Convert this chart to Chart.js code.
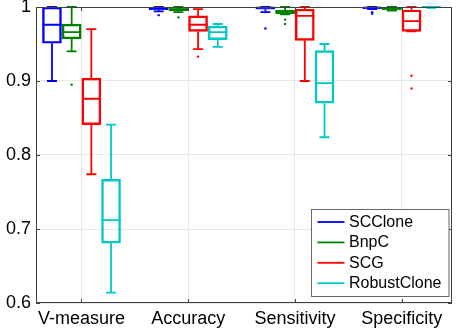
<!DOCTYPE html>
<html>
<head>
<meta charset="utf-8">
<script src="https://cdn.jsdelivr.net/npm/chart.js@4/dist/chart.umd.min.js"></script>
<style>
html,body{margin:0;padding:0;background:#fff;}
canvas{display:block;}
</style>
</head>
<body>
<canvas id="c" width="457" height="328"></canvas>
<script>
// ---- data ----
const categories = ['V-measure', 'Accuracy', 'Sensitivity', 'Specificity'];
const methods = ['SCClone', 'BnpC', 'SCG', 'RobustClone'];
const yTicks = [0.6, 0.7, 0.8, 0.9, 1];

// five-number summaries per category: [lower whisker, q1, median, q3, upper whisker]
const scclone = [
  [0.900, 0.951, 0.976, 1.000, 1.000],
  [0.994, 0.996, 0.998, 0.999, 1.000],
  [0.993, 0.997, 0.999, 1.000, 1.000],
  [0.997, 0.998, 0.999, 1.000, 1.000]
];
const bnpc = [
  [0.940, 0.957, 0.966, 0.977, 1.000],
  [0.993, 0.995, 0.997, 0.998, 1.000],
  [0.990, 0.991, 0.994, 0.996, 1.000],
  [0.995, 0.996, 0.998, 0.999, 1.000]
];
const scg = [
  [0.774, 0.841, 0.876, 0.904, 0.970],
  [0.943, 0.967, 0.976, 0.988, 0.997],
  [0.900, 0.955, 0.988, 0.997, 1.000],
  [0.967, 0.967, 0.981, 0.996, 1.000]
];
const robustclone = [
  [0.614, 0.681, 0.712, 0.767, 0.841],
  [0.946, 0.956, 0.966, 0.974, 0.977],
  [0.824, 0.870, 0.897, 0.941, 0.950],
  [0.999, 0.9995, 1.000, 1.000, 1.000]
];
// outliers per category
const sccloneOutliers = [[], [0.989], [0.971], [0.993, 0.991]];
const bnpcOutliers = [[0.895], [0.986], [0.983, 0.977], []];
const scgOutliers = [[], [0.933], [], [0.907, 0.890]];
const robustcloneOutliers = [[], [], [], []];

// ---- style ----
const stats = [scclone, bnpc, scg, robustclone];
const outliers = [sccloneOutliers, bnpcOutliers, scgOutliers, robustcloneOutliers];
const colors = ['#0000ff', '#008000', '#ff0000', '#00c8c8'];
const boxStep = 0.1845;
const offsetOf = k => (k - 1.5) * boxStep;
const LW = 1.8;
const FONT = '"Liberation Sans", Arial, Helvetica, sans-serif';

const datasets = [];
methods.forEach((m, k) => {
  datasets.push({
    type: 'bar',
    label: m,
    data: categories.map((c, i) => ({ x: i + 1 + offsetOf(k), y: [stats[k][i][1], stats[k][i][3]] })),
    backgroundColor: 'rgba(0,0,0,0)',
    borderColor: colors[k],
    borderWidth: LW,
    borderSkipped: false,
    barThickness: 19,
    grouped: false
  });
});
methods.forEach((m, k) => {
  const pts = [];
  categories.forEach((c, i) => {
    outliers[k][i].forEach(v => pts.push({ x: i + 1 + offsetOf(k), y: v }));
  });
  datasets.push({
    type: 'scatter',
    label: m + ' outliers',
    data: pts,
    pointRadius: 1.2,
    pointBackgroundColor: colors[k],
    pointBorderWidth: 0,
    pointHoverRadius: 1.2
  });
});

const noPad = s => { s.paddingTop = 0; s.paddingBottom = 0; s.paddingLeft = 0; s.paddingRight = 0; };

const boxPlugin = {
  id: 'boxParts',
  afterDatasetsDraw(chart) {
    const ctx = chart.ctx;
    const xs = chart.scales.x, ys = chart.scales.y;
    const ca = chart.chartArea;
    ctx.save();
    ctx.lineCap = 'butt';
    methods.forEach((m, k) => {
      ctx.strokeStyle = colors[k];
      ctx.lineWidth = LW;
      categories.forEach((c, i) => {
        const s = stats[k][i];
        const cx = xs.getPixelForValue(i + 1 + offsetOf(k));
        const yMin = ys.getPixelForValue(s[0]);
        const yQ1 = ys.getPixelForValue(s[1]);
        const yMed = ys.getPixelForValue(s[2]);
        const yQ3 = ys.getPixelForValue(s[3]);
        const yMax = ys.getPixelForValue(s[4]);
        ctx.beginPath();
        ctx.moveTo(cx, yQ3); ctx.lineTo(cx, yMax);
        ctx.moveTo(cx, yQ1); ctx.lineTo(cx, yMin);
        ctx.moveTo(cx - 5, yMax); ctx.lineTo(cx + 5, yMax);
        ctx.moveTo(cx - 5, yMin); ctx.lineTo(cx + 5, yMin);
        ctx.moveTo(cx - 9.5, yMed); ctx.lineTo(cx + 9.5, yMed);
        ctx.stroke();
      });
    });
    // frame and inward ticks
    ctx.strokeStyle = '#404040';
    ctx.lineWidth = 1;
    ctx.strokeRect(ca.left + 0.5, ca.top + 0.5, ca.right - ca.left - 1, ca.bottom - ca.top - 1);
    ctx.beginPath();
    ys.ticks.forEach(t => {
      const y = Math.round(ys.getPixelForValue(t.value)) + 0.5;
      ctx.moveTo(ca.left, y); ctx.lineTo(ca.left + 4, y);
      ctx.moveTo(ca.right, y); ctx.lineTo(ca.right - 4, y);
    });
    xs.ticks.forEach(t => {
      const x = Math.round(xs.getPixelForValue(t.value)) + 0.5;
      ctx.moveTo(x, ca.bottom); ctx.lineTo(x, ca.bottom - 4);
      ctx.moveTo(x, ca.top); ctx.lineTo(x, ca.top + 4);
    });
    ctx.stroke();
    ctx.restore();
  },
  afterDraw(chart) {
    const ctx = chart.ctx;
    const ca = chart.chartArea;
    const bx = ca.right - 140.5, by = ca.bottom - 93.5, bw = 137.5, bh = 87;
    ctx.save();
    ctx.fillStyle = '#ffffff';
    ctx.fillRect(bx, by, bw, bh);
    ctx.strokeStyle = '#666666';
    ctx.lineWidth = 1;
    ctx.strokeRect(bx, by, bw, bh);
    ctx.font = '16px ' + FONT;
    ctx.textBaseline = 'middle';
    ctx.textAlign = 'left';
    methods.forEach((m, k) => {
      const y = by + 12.5 + k * 20.4;
      ctx.strokeStyle = colors[k];
      ctx.lineWidth = 1.8;
      ctx.beginPath();
      ctx.moveTo(bx + 6, y); ctx.lineTo(bx + 33, y);
      ctx.stroke();
      ctx.fillStyle = '#000000';
      ctx.fillText(m, bx + 37.5, y + 0.5);
    });
    ctx.restore();
  }
};

new Chart(document.getElementById('c'), {
  data: { datasets },
  options: {
    responsive: false,
    devicePixelRatio: 1,
    animation: false,
    layout: { padding: { left: 0, top: 7, right: 5, bottom: 0 } },
    plugins: { legend: { display: false }, tooltip: { enabled: false } },
    scales: {
      x: {
        type: 'linear',
        offset: false,
        min: 0.5737,
        max: 4.4714,
        afterBuildTicks: s => { s.ticks = categories.map((c, i) => ({ value: i + 1 })); },
        afterFit: s => { s.height = 25; noPad(s); },
        ticks: {
          callback: v => categories[Math.round(v) - 1],
          autoSkip: false,
          maxRotation: 0,
          color: '#000',
          font: { size: 18, family: FONT },
          padding: 5
        },
        grid: { color: '#e8e8e8', drawTicks: false, offset: false },
        border: { display: false }
      },
      y: {
        type: 'linear',
        min: 0.6,
        max: 1,
        afterBuildTicks: s => { s.ticks = yTicks.map(v => ({ value: v })); },
        afterFit: s => { s.width = 36; noPad(s); },
        ticks: {
          callback: v => String(Math.round(v * 10) / 10),
          color: '#000',
          font: { size: 18, family: FONT },
          padding: 5
        },
        grid: { color: '#e8e8e8', drawTicks: false },
        border: { display: false }
      }
    }
  },
  plugins: [boxPlugin]
});
</script>
</body>
</html>
